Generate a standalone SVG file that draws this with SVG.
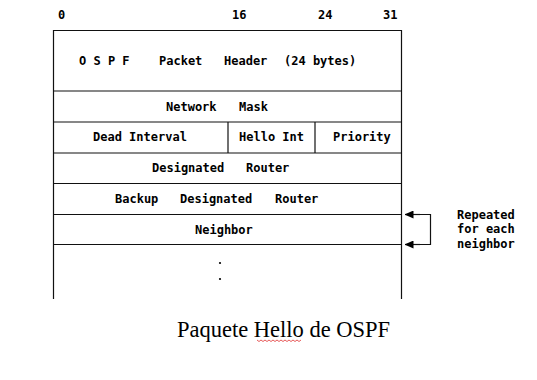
<svg xmlns="http://www.w3.org/2000/svg" width="537" height="380" viewBox="0 0 537 380">
<defs>
<style>
.t{font-family:"DejaVu Sans Mono","Liberation Mono",monospace;font-weight:bold;font-size:12px;fill:#000}
.ln{stroke:#111;stroke-width:1.2;fill:none}
.cap{font-family:"Liberation Serif","Times New Roman",serif;font-size:22.5px;fill:#000}
</style>
<marker id="ah" markerWidth="9" markerHeight="8" refX="8.5" refY="4" orient="auto" markerUnits="userSpaceOnUse">
<path d="M0,0 L9,4 L0,8 Z" fill="#000"/>
</marker>
</defs>
<rect width="537" height="380" fill="#fff"/>
<g id="bit-labels">
<text class="t" x="58" y="19">0</text>
<text class="t" x="232" y="19">16</text>
<text class="t" x="318" y="19">24</text>
<text class="t" x="383" y="19">31</text>
</g>
<g id="frame">
<path class="ln" d="M53.5,299 V30.5 H401.5 V299"/>
<line class="ln" x1="53.5" y1="91" x2="401.5" y2="91"/>
<line class="ln" x1="53.5" y1="122" x2="401.5" y2="122"/>
<line class="ln" x1="53.5" y1="153" x2="401.5" y2="153"/>
<line class="ln" x1="53.5" y1="183.5" x2="401.5" y2="183.5"/>
<line class="ln" x1="53.5" y1="214.5" x2="401.5" y2="214.5"/>
<line class="ln" x1="53.5" y1="244.5" x2="401.5" y2="244.5"/>
<line class="ln" x1="228" y1="122" x2="228" y2="153"/>
<line class="ln" x1="315" y1="122" x2="315" y2="153"/>
</g>
<g id="header">
<text class="t" x="79" y="65">O S P F</text>
<text class="t" x="159" y="65">Packet</text>
<text class="t" x="224" y="65">Header</text>
<text class="t" x="284" y="65">(24 bytes)</text>
</g>
<g id="network-mask">
<text class="t" x="166" y="111">Network</text>
<text class="t" x="239" y="111">Mask</text>
</g>
<g id="dead-interval"><text class="t" x="93" y="141">Dead Interval</text></g>
<g id="hello-int"><text class="t" x="239" y="141">Hello Int</text></g>
<g id="priority"><text class="t" x="333" y="141">Priority</text></g>
<g id="designated-router">
<text class="t" x="152" y="172">Designated</text>
<text class="t" x="246" y="172">Router</text>
</g>
<g id="backup-designated-router">
<text class="t" x="115" y="203">Backup</text>
<text class="t" x="180" y="203">Designated</text>
<text class="t" x="275" y="203">Router</text>
</g>
<g id="neighbor"><text class="t" x="195" y="234">Neighbor</text></g>
<g id="dots">
<circle cx="220" cy="263" r="1.1" fill="#000"/>
<circle cx="220" cy="279" r="1.1" fill="#000"/>
</g>
<g id="connectors">
<path class="ln" d="M410,214.5 H430.5 V244.5 H410"/>
<line class="ln" x1="420" y1="214.5" x2="405" y2="214.5" marker-end="url(#ah)"/>
<line class="ln" x1="420" y1="244.5" x2="405" y2="244.5" marker-end="url(#ah)"/>
</g>
<g id="repeat-note">
<text class="t" x="457" y="219">Repeated</text>
<text class="t" x="457" y="233">for each</text>
<text class="t" x="457" y="248">neighbor</text>
</g>
<g id="caption">
<text class="cap" x="177" y="337">Paquete Hello de OSPF</text>
<path d="M257,340 l2,1.5 l2,-1.5 l2,1.5 l2,-1.5 l2,1.5 l2,-1.5 l2,1.5 l2,-1.5 l2,1.5 l2,-1.5 l2,1.5 l2,-1.5 l2,1.5 l2,-1.5 l2,1.5 l2,-1.5 l2,1.5 l2,-1.5 l2,1.5 l2,-1.5 l2,1.5 l2,-1.5" stroke="#e03030" stroke-width="0.8" fill="none"/>
</g>
</svg>
